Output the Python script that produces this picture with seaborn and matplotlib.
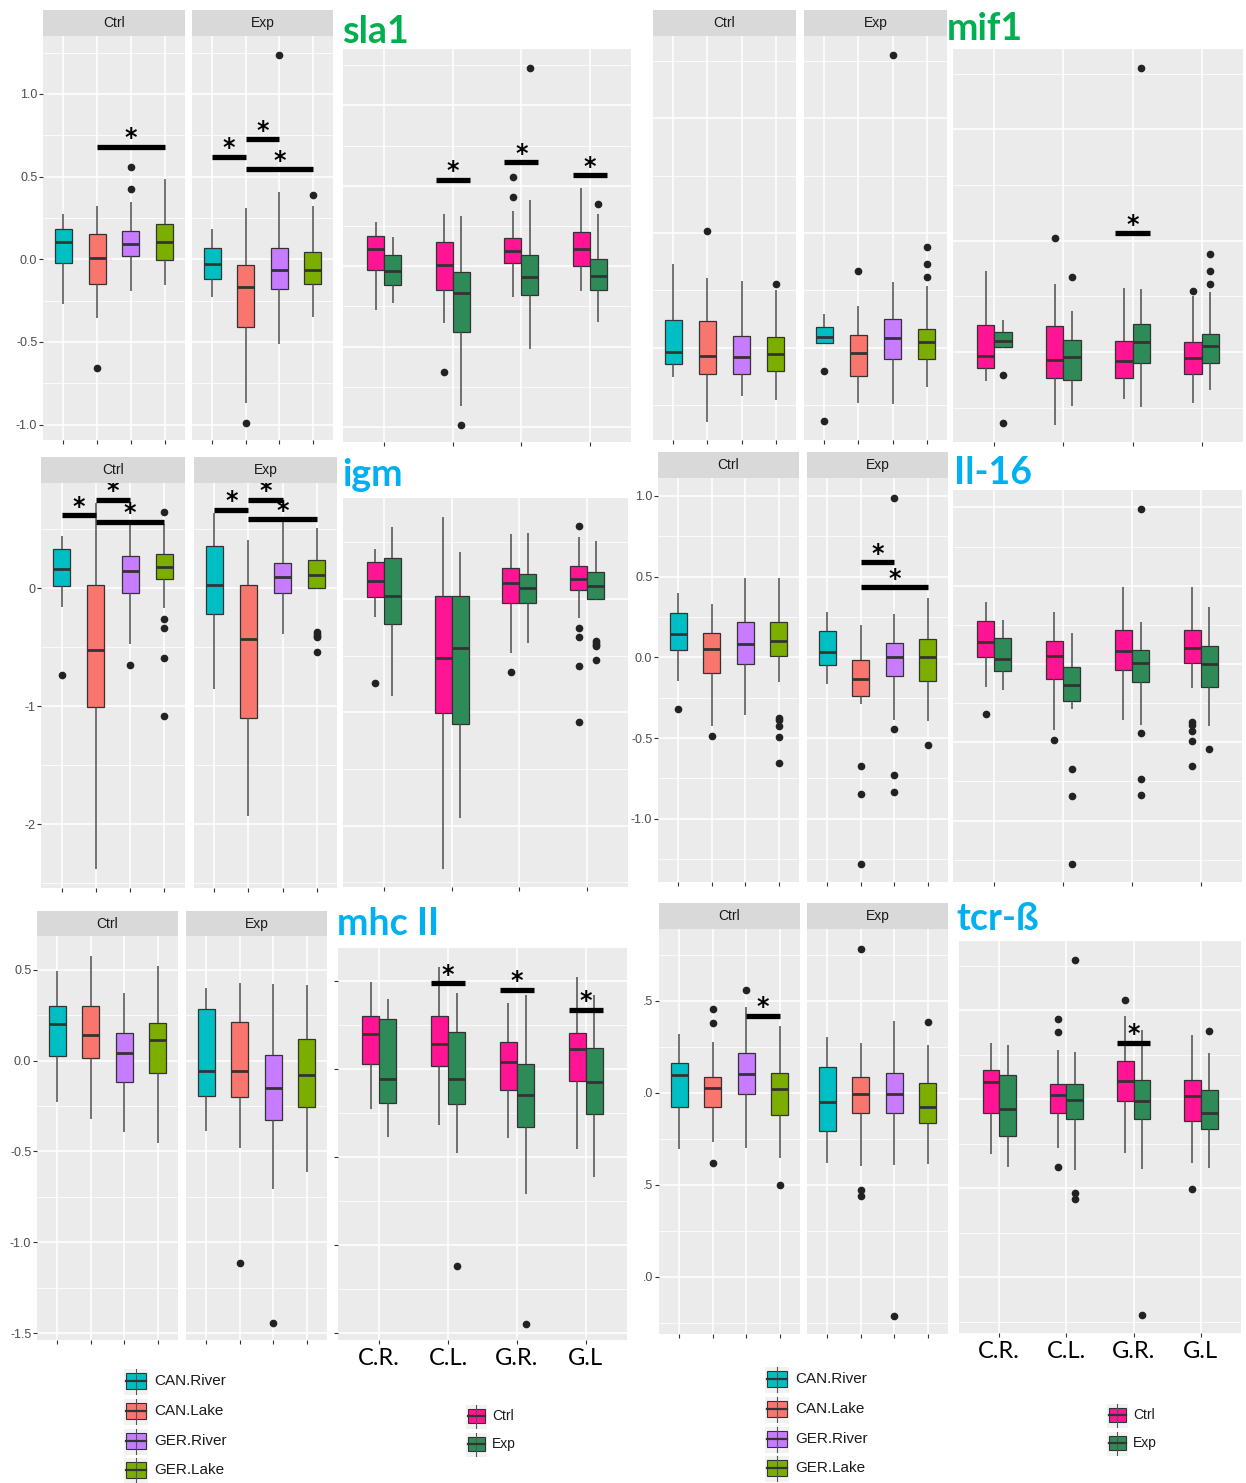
import matplotlib
matplotlib.use("Agg")
import numpy as np
import pandas as pd
import matplotlib.pyplot as plt
import seaborn as sns
from matplotlib.patches import Rectangle
from matplotlib.ticker import FixedLocator

W, H = 1246, 1483

POPS = ['CAN.River', 'CAN.Lake', 'GER.River', 'GER.Lake']
POP_SHORT = ['C.R.', 'C.L.', 'G.R.', 'G.L']
TREATS = ['Ctrl', 'Exp']

# box stats per population: [whisker low, q1, median, q3, whisker high]
SLA1_CTRL = [[-0.27, -0.022, 0.105, 0.185, 0.272],
             [-0.353, -0.147, 0.010, 0.153, 0.325],
             [-0.192, 0.022, 0.093, 0.173, 0.345],
             [-0.155, -0.002, 0.105, 0.212, 0.486]]
SLA1_CTRL_OUT = [[], [-0.659], [0.427, 0.556], []]
SLA1_EXP = [[-0.23, -0.117, -0.03, 0.069, 0.181],
            [-0.867, -0.411, -0.167, -0.036, 0.3125],
            [-0.514, -0.177, -0.065, 0.069, 0.409],
            [-0.347, -0.151, -0.0625, 0.042, 0.325]]
SLA1_EXP_OUT = [[], [-0.988], [1.234], [0.387]]
SLA1_SIG_CTRL = [(1, 3, 0.681)]
SLA1_SIG_EXP = [(0, 1, 0.621), (1, 2, 0.728), (1, 3, 0.544)]
SLA1_SIG_POP = [(1, 0.537), (2, 0.647), (3, 0.564)]

MIF1_CTRL = [[-0.129, -0.071, -0.017, 0.121, 0.365],
             [-0.326, -0.115, -0.036, 0.116, 0.305],
             [-0.209, -0.115, -0.041, 0.051, 0.29],
             [-0.228, -0.100, -0.026, 0.045, 0.251]]
MIF1_CTRL_OUT = [[], [0.510], [], [0.276]]
MIF1_EXP = [[0.02, 0.022, 0.048, 0.089, 0.145],
            [-0.243, -0.124, -0.022, 0.055, 0.183],
            [-0.247, -0.048, 0.044, 0.125, 0.285],
            [-0.170, -0.048, 0.026, 0.083, 0.270]]
MIF1_EXP_OUT = [[-0.103, -0.320], [0.335], [1.275], [0.308, 0.363, 0.439]]
MIF1_SIG_POP = [(2, 0.534)]

IGM_CTRL = [[-0.158, 0.017, 0.158, 0.327, 0.439],
            [-2.383, -1.003, -0.524, 0.025, 0.72],
            [-0.476, -0.039, 0.141, 0.270, 0.576],
            [-0.166, 0.076, 0.177, 0.290, 0.545]]
IGM_CTRL_OUT = [[-0.738], [], [-0.648], [0.645, -0.26, -0.338, -0.594, -1.082]]
IGM_EXP = [[-0.852, -0.22, 0.03, 0.36, 0.634],
           [-1.93, -1.10, -0.434, 0.025, 0.41],
           [-0.385, -0.039, 0.096, 0.216, 0.58],
           [-0.005, 0.0, 0.112, 0.24, 0.51]]
IGM_EXP_OUT = [[], [], [], [-0.375, -0.39, -0.405, -0.415, -0.54]]
IGM_SIG_CTRL = [(0, 1, 0.62), (1, 2, 0.749), (1, 3, 0.563)]
IGM_SIG_EXP = [(0, 1, 0.665), (1, 2, 0.749), (1, 3, 0.583)]

IL16_CTRL = [[-0.144, 0.045, 0.142, 0.276, 0.398],
             [-0.423, -0.095, 0.049, 0.148, 0.33],
             [-0.355, -0.041, 0.080, 0.216, 0.493],
             [-0.155, 0.006, 0.101, 0.216, 0.493]]
IL16_CTRL_OUT = [[-0.32], [-0.487], [], [-0.373, -0.39, -0.425, -0.493, -0.652]]
IL16_EXP = [[-0.163, -0.047, 0.035, 0.165, 0.278],
            [-0.287, -0.239, -0.136, -0.016, 0.2],
            [-0.39, -0.113, 0.004, 0.091, 0.266],
            [-0.394, -0.144, 0.002, 0.113, 0.365]]
IL16_EXP_OUT = [[], [-0.672, -0.845, -1.28], [0.99, -0.441, -0.732, -0.837], [-0.545]]
IL16_SIG_EXP = [(1, 2, 0.59), (1, 3, 0.435)]

MHC_CTRL = [[-0.226, 0.028, 0.2, 0.301, 0.494],
            [-0.321, 0.015, 0.141, 0.301, 0.576],
            [-0.391, -0.117, 0.04, 0.154, 0.374],
            [-0.455, -0.07, 0.112, 0.206, 0.521]]
MHC_CTRL_OUT = [[], [], [], []]
MHC_EXP = [[-0.385, -0.194, -0.055, 0.284, 0.398],
           [-0.479, -0.2, -0.055, 0.211, 0.429],
           [-0.708, -0.328, -0.149, 0.029, 0.422],
           [-0.615, -0.253, -0.077, 0.117, 0.417]]
MHC_EXP_OUT = [[], [-1.116], [-1.446], []]
MHC_SIG_POP = [(1, 0.487), (2, 0.449), (3, 0.336)]

TCR_CTRL = [[-0.306, -0.076, 0.096, 0.163, 0.317],
            [-0.27, -0.076, 0.027, 0.087, 0.277],
            [-0.299, -0.007, 0.101, 0.215, 0.467],
            [-0.356, -0.123, 0.02, 0.109, 0.362]]
TCR_CTRL_OUT = [[], [0.378, 0.454, -0.38], [0.561], [-0.503]]
TCR_EXP = [[-0.38, -0.206, -0.051, 0.139, 0.304],
           [-0.398, -0.112, -0.005, 0.087, 0.268],
           [-0.393, -0.112, -0.009, 0.109, 0.391],
           [-0.385, -0.165, -0.076, 0.051, 0.262]]
TCR_EXP_OUT = [[], [0.782, -0.528, -0.561], [-1.212], [0.385]]
TCR_SIG_CTRL = [(2, 3, 0.418)]
TCR_SIG_POP = [(2, 0.319)]

POP_COLORS = {'CAN.River': '#00BFC4', 'CAN.Lake': '#F8766D',
              'GER.River': '#C77CFF', 'GER.Lake': '#7CAE00'}
TREAT_COLORS = {'Ctrl': '#FF1493', 'Exp': '#2E8B57'}
GREEN_TITLE = '#00B050'
BLUE_TITLE = '#00B0F0'
PANEL_BG = '#EBEBEB'
EDGE = '#333333'

plt.rcParams['font.family'] = ['Liberation Sans', 'DejaVu Sans']

BOX_KW = dict(linecolor=EDGE, linewidth=0.9, saturation=1, whis=1.5, fliersize=4.5,
              medianprops=dict(linewidth=2.0, color=EDGE),
              whiskerprops=dict(color='#4D4D4D', linewidth=1.1),
              capprops=dict(linewidth=0),
              flierprops=dict(marker='o', markerfacecolor='#222222',
                              markeredgecolor='#222222'))


def build_sample(stats, outliers):
    """Observations whose quartiles / whiskers / fliers reproduce the read box."""
    lo, q1, med, q3, hi = stats
    low = sorted(v for v in outliers if v < lo)
    high = sorted(v for v in outliers if v > hi)
    k = max(len(low), len(high)) + 2
    return (low + [lo] + [q1] * (k - len(low)) + [med] * k + [q3] * k
            + [q3] * (k - 1 - len(high)) + [hi] + high)


def gene_table(ctrl, ctrl_out, exp, exp_out):
    rows = []
    for treat, stats, outs in (('Ctrl', ctrl, ctrl_out), ('Exp', exp, exp_out)):
        for pop, st, ot in zip(POPS, stats, outs):
            rows += [(pop, treat, v) for v in build_sample(st, ot)]
    return pd.DataFrame(rows, columns=['pop', 'treat', 'value'])


def px_axes(fig, x0, y0, x1, y1):
    return fig.add_axes([x0 / W, 1 - y1 / H, (x1 - x0) / W, (y1 - y0) / H])


def style_panel(ax, ylim, majors):
    ax.set_facecolor(PANEL_BG)
    for s in ax.spines.values():
        s.set_visible(False)
    ax.set_xlim(-0.6, 3.6)
    ax.set_ylim(*ylim)
    step = majors[1] - majors[0]
    minors = [m + step / 2 for m in np.arange(majors[0] - 2 * step, ylim[1] + step, step)
              if ylim[0] < m + step / 2 < ylim[1]]
    ax.yaxis.set_major_locator(FixedLocator(majors))
    ax.yaxis.set_minor_locator(FixedLocator(minors))
    ax.set_axisbelow(True)
    ax.grid(which='major', color='white', linewidth=1.1)
    ax.grid(which='minor', axis='y', color='white', linewidth=0.55)
    ax.tick_params(which='major', length=2.6, width=0.8, color=EDGE,
                   labelsize=9, labelcolor='#4D4D4D', pad=1.5)
    ax.tick_params(which='minor', length=0)
    ax.set_xticks(range(4))
    ax.set_xticklabels([])
    ax.set_xlabel('')
    ax.set_ylabel('')


def sig_bar(ax, x0, x1, y):
    ax.plot([x0, x1], [y, y], color='black', lw=3.8, solid_capstyle='butt',
            zorder=5, clip_on=False)
    ax.annotate('*', xy=((x0 + x1) / 2, y), xytext=(0, 6), textcoords='offset points',
                ha='center', va='center', fontsize=17, fontweight='bold', color='black',
                family='DejaVu Sans', annotation_clip=False)


def strip(fig, x0, y0, x1, y1, label):
    sax = px_axes(fig, x0, y0, x1, y1)
    sax.set_facecolor('#D9D9D9')
    sax.set_xticks([])
    sax.set_yticks([])
    for s in sax.spines.values():
        s.set_visible(False)
    sax.text(0.5, 0.5, label, ha='center', va='center', fontsize=10,
             color='#1A1A1A', transform=sax.transAxes)


def draw_gene(fig, title, tcolor, table, ylim, majors, ylabels, lay,
              sig_ctrl=(), sig_exp=(), sig_pop=(), xlabels=False, third_marks=False):
    facets = (('Ctrl', lay['ctrl'], sig_ctrl), ('Exp', lay['exp'], sig_exp))
    for n, (treat, (x0, x1), sigs) in enumerate(facets):
        ax = px_axes(fig, x0, lay['strip'][1], x1, lay['bottom'])
        sns.boxplot(data=table[table['treat'] == treat], x='pop', y='value', hue='pop',
                    order=POPS, hue_order=POPS, palette=POP_COLORS, width=0.5,
                    legend=False, ax=ax, **BOX_KW)
        style_panel(ax, ylim, majors)
        if n == 0 and ylabels is not None:
            ax.set_yticklabels(ylabels)
        else:
            ax.tick_params(axis='y', left=False, labelleft=False)
        for i, j, y in sigs:
            sig_bar(ax, i, j, y)
        strip(fig, x0, lay['strip'][0], x1, lay['strip'][1], treat)

    tx0, ty0, tx1, ty1 = lay['third']
    ax = px_axes(fig, tx0, ty0, tx1, ty1)
    sns.boxplot(data=table, x='pop', y='value', hue='treat', order=POPS,
                hue_order=TREATS, palette=TREAT_COLORS, width=0.5, gap=0,
                dodge=True, legend=False, ax=ax, **BOX_KW)
    style_panel(ax, ylim, majors)
    ax.tick_params(axis='y', labelleft=False, left=third_marks)
    if xlabels:
        ax.set_xticklabels(POP_SHORT, fontsize=17, family='Lato', color='black')
        ax.tick_params(axis='x', pad=3)
    for i, y in sig_pop:
        sig_bar(ax, i - 0.25, i + 0.25, y)

    fig.text(lay['title'][0] / W, 1 - lay['title'][1] / H, title, fontsize=27,
             fontweight='bold', family='Lato', color=tcolor, ha='left', va='baseline')


def legend_block(ov, x0, ys, labels, colors, kw, kh, tx, fs):
    for y, lab, col in zip(ys, labels, colors):
        ov.add_patch(Rectangle((x0, y - kh / 2), kw, kh, facecolor='#F2F2F2',
                               edgecolor='white', lw=0.8))
        cx = x0 + kw / 2
        ov.plot([cx, cx], [y - kh / 2 + 1, y + kh / 2 - 1], color='#555555', lw=0.8)
        ov.add_patch(Rectangle((x0 + 2.5, y - kh * 0.28), kw - 5, kh * 0.56,
                               facecolor=col, edgecolor=EDGE, lw=0.8))
        ov.plot([x0 + 2.5, x0 + kw - 2.5], [y, y], color=EDGE, lw=1.6)
        ov.text(tx, y, lab, va='center', ha='left', fontsize=fs, color='#1A1A1A')


fig = plt.figure(figsize=(W / 100, H / 100), dpi=100, facecolor='white')

draw_gene(fig, 'sla1', GREEN_TITLE,
          gene_table(SLA1_CTRL, SLA1_CTRL_OUT, SLA1_EXP, SLA1_EXP_OUT),
          (-1.093, 1.35), [-1.0, -0.5, 0.0, 0.5, 1.0],
          ['-1.0', '-0.5', '0.0', '0.5', '1.0'],
          dict(ctrl=(43, 185), exp=(192, 333), strip=(10, 36), bottom=440,
               third=(343, 49, 631, 442), title=(342, 43)),
          sig_ctrl=SLA1_SIG_CTRL, sig_exp=SLA1_SIG_EXP, sig_pop=SLA1_SIG_POP)

draw_gene(fig, 'mif1', GREEN_TITLE,
          gene_table(MIF1_CTRL, MIF1_CTRL_OUT, MIF1_EXP, MIF1_EXP_OUT),
          (-0.403, 1.36), [0.0, 0.5, 1.0], None,
          dict(ctrl=(653, 796), exp=(804, 947), strip=(10, 36), bottom=440,
               third=(953, 49, 1243, 442), title=(947, 40)),
          sig_pop=MIF1_SIG_POP)

draw_gene(fig, 'igm', BLUE_TITLE,
          gene_table(IGM_CTRL, IGM_CTRL_OUT, IGM_EXP, IGM_EXP_OUT),
          (-2.54, 0.89), [-2.0, -1.0, 0.0], ['-2', '-1', '0'],
          dict(ctrl=(41, 185), exp=(194, 337), strip=(457, 483), bottom=888,
               third=(343, 498, 628, 887), title=(342, 486)),
          sig_ctrl=IGM_SIG_CTRL, sig_exp=IGM_SIG_EXP)

draw_gene(fig, 'Il-16', BLUE_TITLE,
          gene_table(IL16_CTRL, IL16_CTRL_OUT, IL16_EXP, IL16_EXP_OUT),
          (-1.392, 1.111), [-1.0, -0.5, 0.0, 0.5, 1.0],
          ['-1.0', '-0.5', '0.0', '0.5', '1.0'],
          dict(ctrl=(658, 799), exp=(807, 948), strip=(452, 478), bottom=882,
               third=(953, 490, 1242, 882), title=(954, 484)),
          sig_exp=IL16_SIG_EXP)

draw_gene(fig, 'mhc II', BLUE_TITLE,
          gene_table(MHC_CTRL, MHC_CTRL_OUT, MHC_EXP, MHC_EXP_OUT),
          (-1.538, 0.686), [-1.5, -1.0, -0.5, 0.0, 0.5],
          ['-1.5', '-1.0', '-0.5', '0.0', '0.5'],
          dict(ctrl=(37, 178), exp=(186, 327), strip=(911, 936), bottom=1340,
               third=(338, 948, 627, 1340), title=(337, 935)),
          sig_pop=MHC_SIG_POP, xlabels=True, third_marks=True)

draw_gene(fig, 'tcr-ß', BLUE_TITLE,
          gene_table(TCR_CTRL, TCR_CTRL_OUT, TCR_EXP, TCR_EXP_OUT),
          (-1.312, 0.89), [-1.0, -0.5, 0.0, 0.5], ['.0', '.5', '.0', '.5'],
          dict(ctrl=(659, 800), exp=(807, 948), strip=(903, 929), bottom=1334,
               third=(959, 941, 1241, 1333), title=(956, 930)),
          sig_ctrl=TCR_SIG_CTRL, sig_pop=TCR_SIG_POP, xlabels=True)

ov = fig.add_axes([0, 0, 1, 1], zorder=-1)
ov.set_xlim(0, W)
ov.set_ylim(H, 0)
ov.axis('off')
pop_cols = [POP_COLORS[p] for p in POPS]
treat_cols = [TREAT_COLORS[t] for t in TREATS]
legend_block(ov, 123, [1381, 1411, 1441, 1470], POPS, pop_cols, 25, 27, 154, 11)
legend_block(ov, 764, [1379, 1409, 1439, 1468], POPS, pop_cols, 25, 27, 795, 11)
legend_block(ov, 465, [1416, 1444], TREATS, treat_cols, 22, 25, 492, 10)
legend_block(ov, 1106, [1415, 1443], TREATS, treat_cols, 22, 25, 1133, 10)

fig.savefig('out.png', dpi=100, facecolor='white')
